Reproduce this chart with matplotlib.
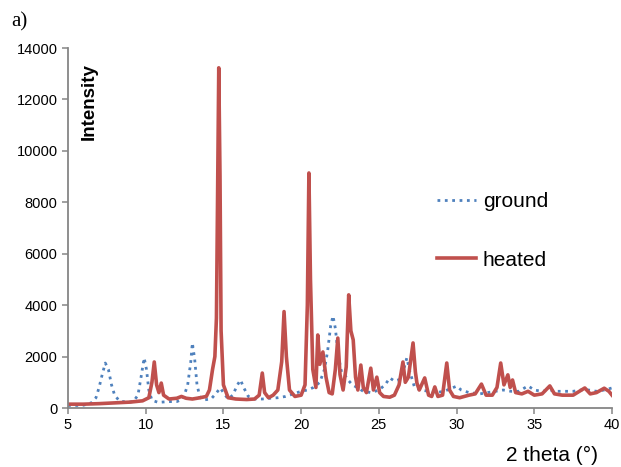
import matplotlib
matplotlib.use("Agg")
import matplotlib.pyplot as plt

# 2 theta (deg) / intensity
ground_x = [5.0, 5.5, 6.0, 6.5, 6.8, 7.0, 7.2, 7.4, 7.6, 7.8, 8.0, 8.3, 8.8, 9.2,
            9.5, 9.7, 9.9, 10.05, 10.2, 10.4, 10.8, 11.5, 12.0, 12.4, 12.7, 12.9,
            13.0, 13.15, 13.3, 13.5, 13.8, 14.2, 14.5, 14.8, 15.0, 15.3, 15.6, 15.9,
            16.1, 16.3, 16.6, 17.0, 17.5, 18.0, 18.5, 19.0, 19.5, 20.0, 20.4, 20.8,
            21.2, 21.5, 21.7, 21.9, 22.05, 22.2, 22.4, 22.6, 22.8, 23.0, 23.3, 23.6,
            24.0, 24.5, 25.0, 25.4, 25.7, 26.0, 26.3, 26.6, 26.8, 27.0, 27.3, 27.7,
            28.2, 28.7, 29.2, 29.6, 30.0, 30.3, 30.8, 31.5, 32.0, 32.5, 33.0, 33.5,
            34.0, 34.6, 35.0, 35.5, 36.0, 36.5, 37.0, 37.5, 38.0, 38.5, 39.0, 39.5, 40.0]
ground_y = [100, 100, 110, 200, 400, 800, 1300, 1750, 1500, 900, 500, 280, 220, 250,
            500, 1200, 1950, 1500, 700, 300, 220, 250, 250, 350, 900, 1800,
            2530, 1900, 900, 400, 320, 350, 550, 780, 600, 350, 500, 900,
            1090, 800, 450, 350, 350, 380, 400, 450, 550, 650, 700, 800,
            1000, 1500, 2200, 3200, 3580, 3100, 2000, 1400, 1300, 1100, 900, 800,
            650, 600, 700, 900, 1170, 1050, 1100, 1500, 1950, 1400, 800, 700,
            650, 600, 650, 750, 850, 700, 600, 550, 600, 650, 700, 650,
            650, 860, 700, 650, 700, 650, 650, 650, 700, 700, 650, 700, 780]

heated_x = [5.0, 6.0, 7.0, 8.0, 9.0, 9.8, 10.2, 10.4, 10.55, 10.7, 10.85, 11.0, 11.15,
            11.5, 12.0, 12.3, 12.6, 13.0, 13.5, 13.9, 14.1, 14.3, 14.45, 14.55, 14.62,
            14.7, 14.78, 14.85, 15.0, 15.3, 15.8, 16.5, 17.0, 17.3, 17.5, 17.65, 17.9,
            18.2, 18.5, 18.75, 18.9, 19.05, 19.25, 19.6, 20.0, 20.25, 20.4, 20.5, 20.6,
            20.75, 20.95, 21.07, 21.2, 21.4, 21.6, 21.8, 22.0, 22.2, 22.36, 22.5, 22.7,
            22.9, 23.06, 23.2, 23.35, 23.5, 23.65, 23.84, 24.0, 24.2, 24.48, 24.65,
            24.87, 25.05, 25.3, 25.7, 26.0, 26.3, 26.55, 26.7, 26.9, 27.2, 27.35, 27.45,
            27.6, 27.95, 28.2, 28.4, 28.6, 28.8, 29.1, 29.37, 29.55, 29.8, 30.2, 30.8,
            31.2, 31.6, 31.9, 32.3, 32.6, 32.84, 33.05, 33.3, 33.45, 33.6, 33.8, 34.2,
            34.6, 35.0, 35.5, 36.0, 36.3, 36.8, 37.5, 38.25, 38.6, 39.0, 39.5, 39.8, 40.0]
heated_y = [150, 150, 170, 200, 230, 280, 400, 1000, 1790, 900, 600, 970, 500,
            350, 380, 450, 380, 350, 400, 450, 700, 1500, 2000, 3500, 8000,
            13230, 9000, 3000, 900, 400, 350, 330, 350, 500, 1360, 600, 400,
            500, 700, 1800, 3750, 2000, 700, 450, 500, 900, 4000, 9140, 5000,
            1500, 800, 2840, 1700, 2180, 1200, 600, 550, 1500, 2720, 1300, 700,
            1600, 4400, 3000, 2650, 1200, 700, 1670, 800, 600, 1550, 700,
            1200, 600, 450, 420, 500, 900, 1790, 1000, 1200, 2530, 1400, 970,
            700, 1170, 500, 450, 820, 450, 500, 1750, 700, 450, 400, 500,
            550, 930, 500, 500, 800, 1750, 900, 1290, 800, 1090, 600, 550,
            650, 500, 550, 860, 550, 500, 500, 780, 550, 600, 770, 650, 500]

x_ticks = [5, 10, 15, 20, 25, 30, 35, 40]
y_ticks = [0, 2000, 4000, 6000, 8000, 10000, 12000, 14000]

plt.rcParams['font.family'] = ['Liberation Sans', 'DejaVu Sans']

fig = plt.figure(figsize=(6.21, 4.67), dpi=100)
ax = fig.add_axes([0.1095, 0.1263, 0.876, 0.7709])

ax.plot(ground_x, ground_y, color='#4F81BD', linestyle=':', linewidth=2.0, label='ground')
ax.plot(heated_x, heated_y, color='#C0504D', linestyle='-', linewidth=2.6, label='heated')

ax.set_xlim(5, 40)
ax.set_ylim(0, 14000)
ax.set_xticks(x_ticks)
ax.set_yticks(y_ticks)
ax.tick_params(axis='both', direction='out', length=4, width=1.1, color='#868686',
               labelsize=10.5, labelcolor='black')
for side in ('top', 'right'):
    ax.spines[side].set_visible(False)
for side in ('left', 'bottom'):
    ax.spines[side].set_color('#868686')
    ax.spines[side].set_linewidth(1.3)

leg = ax.legend(loc='center left', bbox_to_anchor=(0.678, 0.492), frameon=False,
                fontsize=15, handlelength=1.9, handletextpad=0.3, labelspacing=1.9,
                borderpad=0, borderaxespad=0)

fig.text(89 / 621, 1 - 63 / 467, 'Intensity', rotation=90, ha='center', va='top',
         fontsize=13.5, fontweight='bold')
fig.text(552 / 621, 1 - 455 / 467, '2 theta (°)', ha='center', va='center', fontsize=15)
fig.text(11 / 621, 1 - 22 / 467, 'a)', ha='left', va='center', fontsize=15,
         family='Liberation Serif')

fig.savefig('out.png', dpi=100)
